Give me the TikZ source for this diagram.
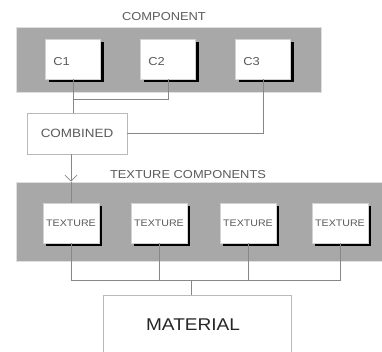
\documentclass[tikz,border=0pt]{standalone}
\usepackage{fontspec}
\setmainfont{Liberation Sans}[FakeStretch=1.12]
\usetikzlibrary{arrows.meta,shadows}
\definecolor{panelgray}{RGB}{168,168,168}
\definecolor{linegray}{RGB}{135,135,135}
\definecolor{textgray}{RGB}{90,90,90}
\tikzset{
  panel/.style={fill=panelgray,draw=gray!25,line width=0.6pt,inner sep=0pt},
  compbox/.style={draw=gray!35,fill=white,line width=0.6pt,
    minimum width=55pt,minimum height=40pt,inner sep=0pt,
    drop shadow={shadow xshift=3pt,shadow yshift=-3pt,fill=black,opacity=1}},
  texbox/.style={compbox,minimum width=56pt,minimum height=40pt,
    font=\fontsize{9.5}{11}\selectfont,text=textgray},
  plainbox/.style={draw=gray!55,fill=white,line width=0.8pt,inner sep=0pt},
  lbl/.style={font=\fontsize{11.5}{13}\selectfont,text=textgray,inner sep=0pt},
  link/.style={draw=linegray,line width=0.8pt}
}

\begin{document}
\begin{tikzpicture}[x=1pt,y=-1pt]
  \useasboundingbox (0,0) rectangle (382,351);
  \clip (0,0) rectangle (382,351);

  % component panel
  \node[panel,minimum width=305pt,minimum height=65pt] (comppanel) at (168.5,59.5) {};
  \node[lbl] (complbl) at (164,17) {COMPONENT};
  \node[compbox] (c1) at (73,59) {};
  \node[compbox] (c2) at (168,59) {};
  \node[compbox] (c3) at (263,59) {};
  \node[lbl,anchor=west] at ([xshift=8pt,yshift=-3pt]c1.west) {C1};
  \node[lbl,anchor=west] at ([xshift=8pt,yshift=-3pt]c2.west) {C2};
  \node[lbl,anchor=west] at ([xshift=8pt,yshift=-3pt]c3.west) {C3};

  % combined
  \node[plainbox,minimum width=100pt,minimum height=41pt,
        font=\fontsize{12}{14}\selectfont,text=textgray] (combined) at (77,133.5) {COMBINED};

  % texture panel
  \node[panel,minimum width=370pt,minimum height=79pt] (texpanel) at (201,221.5) {};
  \node[lbl] (texlbl) at (188,175) {TEXTURE COMPONENTS};
  \node[texbox] (t1) at (71,223) {TEXTURE};
  \node[texbox] (t2) at (159,223) {TEXTURE};
  \node[texbox] (t3) at (248,223) {TEXTURE};
  \node[texbox] (t4) at (340,223) {TEXTURE};

  % material
  \node[plainbox,minimum width=188pt,minimum height=57pt] (material) at (197,323.5) {};
  \node[font=\fontsize{17}{20}\selectfont,text=black!85] (matlbl) at (193,325) {MATERIAL};

  % connectors
  \coordinate (j1) at (73,99);
  \draw[link] (c1.south) -- (c1.south |- combined.north);
  \draw[link] (c2.south) |- (j1);
  \draw[link] (c3.south) |- (combined.east);
  \coordinate (arrtip) at (t1.north |- texpanel.north);
  \draw[link,-{Straight Barb[length=6pt,width=12pt]}] (combined.south -| t1.north) -- (arrtip);
  \draw[link] (arrtip) -- (t1.north);
  \coordinate (busl) at (71,280);
  \coordinate (busm) at (191,280);
  \draw[link] (t1.south) -- (busl) -- (t4.south |- busl) -- (t4.south);
  \draw[link] (t2.south) -- (t2.south |- busl);
  \draw[link] (t3.south) -- (t3.south |- busl);
  \draw[link] (busm) -- (busm |- material.north);
\end{tikzpicture}
\end{document}
